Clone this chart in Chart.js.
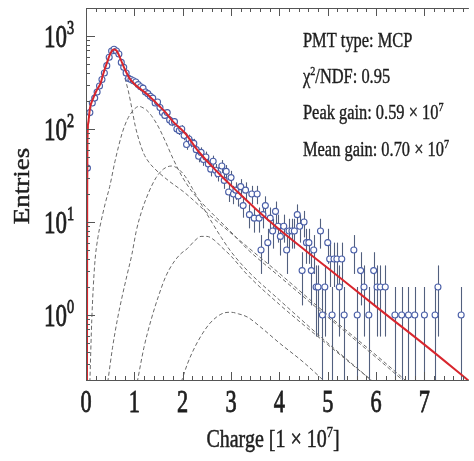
<!DOCTYPE html>
<html>
<head>
<meta charset="utf-8">
<script src="https://cdn.jsdelivr.net/npm/chart.js@4.4.0/dist/chart.umd.min.js"></script>
<style>
  html, body { margin: 0; padding: 0; background: #fff; }
</style>
</head>
<body>
<canvas id="c" width="474" height="461"></canvas>
<script>
// measured histogram (charge in 1e7, entries)
const dataCharge = [
  0.03,0.08,0.13,0.18,0.23,0.28,0.33,0.38,0.43,0.48,
  0.53,0.58,0.63,0.68,0.73,0.78,0.83,0.88,0.93,0.98,
  1.03,1.08,1.13,1.18,1.23,1.28,1.33,1.38,1.43,1.48,
  1.53,1.58,1.63,1.68,1.73,1.78,1.83,1.88,1.93,1.98,
  2.03,2.08,2.13,2.18,2.23,2.28,2.33,2.38,2.43,2.48,
  2.53,2.58,2.63,2.68,2.73,2.81,2.86,2.90,2.95,3.00,
  3.05,3.10,3.15,3.20,3.25,3.30,3.38,3.43,3.48,3.54,
  3.58,3.62,3.66,3.71,3.76,3.81,3.86,3.92,3.97,4.02,
  4.09,4.15,4.20,4.26,4.31,4.37,4.42,4.47,4.51,4.56,
  4.61,4.66,4.71,4.76,4.80,4.85,4.89,4.94,5.00,5.04,
  5.09,5.13,5.19,5.24,5.29,5.34,5.54,5.61,5.68,5.75,
  5.85,5.95,6.02,6.09,6.19,6.39,6.53,6.67,6.80,7.00,
  7.22,7.28,7.76
];
const dataEntries = [
  38,150,190,215,250,290,340,400,480,590,
  690,720,690,640,520,460,400,350,340,330,
  320,300,285,275,250,240,225,215,190,195,
  170,150,140,150,125,118,120,100,96,100,
  85,68,78,72,70,60,51,56,47,50,
  42,37,45,36,33,40,28,35,21,30,
  20,22,19,24,15,22,12,20,11,20,
  11,5,12,15,6,11,8,13,9,7,
  9,5,8,8,8,12,9,3,10,6,
  6,3,5,2,2,8,1,2,6,4,
  1,4,4,2,4,1,5,1,3,2,
  1,3,2,2,2,1,1,1,1,1,
  1,2,1
];

// total fit
const fitCharge  = [0.02,0.025,0.03,0.05,0.08,0.15,0.22,0.30,0.35,0.43,0.50,0.57,0.63,0.70,0.75,0.82,0.90,1.00,1.10,1.25,1.37,1.50,1.65,1.80,2.05,2.32,2.73,3.14,3.50,4.00,5.00,6.00,7.00,7.95];
const fitEntries = [0.18,20,75,120,165,215,260,310,380,510,640,715,700,590,510,420,350,305,275,240,210,180,150,120,90,58,34,21,14,8.3,3.2,1.23,0.48,0.19];

// n-photoelectron components
const pe1Charge  = [0.02,0.025,0.03,0.05,0.08,0.15,0.22,0.30,0.35,0.43,0.50,0.57,0.63,0.70,0.80,0.88,0.95,1.02,1.10,1.19,1.30,1.43,1.70,2.04,2.58,3.34,4.00,5.00,6.00,6.65];
const pe1Entries = [0.18,18,70,110,150,195,240,290,360,490,620,705,690,560,360,250,165,107,75,55,44,37,28,20.7,11.6,5.4,2.8,1.0,0.37,0.19];
const pe2Charge  = [0.08,0.12,0.18,0.25,0.30,0.40,0.49,0.60,0.75,0.85,0.96,1.05,1.10,1.15,1.25,1.35,1.50,1.65,1.80,2.00,2.20,2.40,2.60,3.00,3.34,4.00,5.00,6.00,6.65];
const pe2Entries = [0.19,0.9,3.5,7,9.5,16,24,45,91,125,155,172,175,172,160,140,105,72,48,30,21,16,12.5,7.8,5.1,2.6,0.95,0.35,0.18];
const pe3Charge  = [0.45,0.55,0.65,0.75,0.85,0.95,1.04,1.15,1.30,1.45,1.60,1.77,1.90,2.05,2.20,2.40,2.60,2.80,3.00,3.34,4.00,5.00,6.00];
const pe3Entries = [0.19,0.45,0.9,1.6,2.7,4.5,8,13,21,30,37,40,37.5,31,23,15,10,6.8,4.8,3.0,1.45,0.5,0.18];
const pe4Charge  = [1.06,1.20,1.35,1.50,1.65,1.80,1.95,2.10,2.25,2.38,2.50,2.65,2.80,3.00,3.34,4.00,5.00,5.95];
const pe4Entries = [0.19,0.45,0.9,1.6,2.6,3.6,4.5,5.2,6.3,7.0,7.0,6.4,5.4,4.3,2.7,1.3,0.48,0.19];
const pe5Charge  = [1.97,2.10,2.25,2.40,2.55,2.70,2.85,3.00,3.15,3.34,3.60,4.00,4.50,4.95];
const pe5Entries = [0.19,0.3,0.45,0.62,0.8,0.95,1.05,1.07,1.03,0.95,0.75,0.5,0.31,0.19];

const xTicks = [0, 1, 2, 3, 4, 5, 6, 7];
const yTickExp = [0, 1, 2, 3];
const infoLines = [
  [['PMT type: MCP', false]],
  [['\u03C7', false], ['2', true], ['/NDF: 0.95', false]],
  [['Peak gain: 0.59 \u00D7 10', false], ['7', true]],
  [['Mean gain: 0.70 \u00D7 10', false], ['7', true]]
];

const pts = (xs, ys) => xs.map((x, i) => ({ x: x, y: ys[i] }));
const FONT = '"Liberation Serif", "DejaVu Serif", serif';
const INK = '#1e1e1e';
const AXIS = '#555';

// text with superscripts, squeezed horizontally like the source figure
function drawRuns(ctx, runs, x, y, size, sx, align, weight) {
  let w = 0;
  const parts = runs.map(([t, sup]) => {
    const fs = sup ? size * 0.62 : size;
    ctx.font = fs + 'px ' + FONT;
    const pw = ctx.measureText(t).width;
    w += pw;
    return { t, sup, fs, pw };
  });
  ctx.save();
  ctx.translate(x, y);
  ctx.scale(sx, 1);
  ctx.textAlign = 'left';
  ctx.textBaseline = 'alphabetic';
  ctx.fillStyle = INK;
  ctx.strokeStyle = INK;
  ctx.lineWidth = weight || 0;
  let cx = align === 'right' ? -w : align === 'center' ? -w / 2 : 0;
  parts.forEach(p => {
    ctx.font = p.fs + 'px ' + FONT;
    const ty = p.sup ? -size * 0.42 : 0;
    ctx.fillText(p.t, cx, ty);
    if (weight) ctx.strokeText(p.t, cx, ty);
    cx += p.pw;
  });
  ctx.restore();
}

const errorBars = {
  id: 'errorBars',
  beforeDatasetsDraw(chart) {
    const { ctx, chartArea: a, scales: { x, y } } = chart;
    ctx.save();
    ctx.beginPath();
    ctx.rect(a.left, a.top, a.right - a.left, a.bottom - a.top);
    ctx.clip();
    ctx.strokeStyle = '#52607e';
    ctx.lineWidth = 1.1;
    dataCharge.forEach((c, i) => {
      const n = dataEntries[i];
      const s = Math.sqrt(n);
      const px = Math.round(x.getPixelForValue(c)) + 0.5;
      const lo = n - s > 0 ? y.getPixelForValue(n - s) : a.bottom;
      const hi = y.getPixelForValue(n + s);
      ctx.beginPath();
      ctx.moveTo(px, Math.min(lo, a.bottom));
      ctx.lineTo(px, hi);
      ctx.stroke();
    });
    ctx.restore();
  }
};

const axes = {
  id: 'axes',
  afterDraw(chart) {
    const { ctx, chartArea: a, scales: { x, y } } = chart;
    ctx.save();
    ctx.strokeStyle = AXIS;
    ctx.lineWidth = 1;
    // frame (right edge falls outside the picture)
    ctx.beginPath();
    ctx.moveTo(a.right, a.top + 0.5);
    ctx.lineTo(a.left + 0.5, a.top + 0.5);
    ctx.lineTo(a.left + 0.5, a.bottom + 0.5);
    ctx.lineTo(a.right, a.bottom + 0.5);
    ctx.stroke();

    // x ticks, inward, bottom and top
    ctx.beginPath();
    for (let i = 0; i <= 39; i++) {
      const v = i / 5;
      if (v > x.max) break;
      const px = Math.round(x.getPixelForValue(v)) + 0.5;
      const len = i % 5 === 0 ? 8 : 4;
      ctx.moveTo(px, a.bottom);
      ctx.lineTo(px, a.bottom - len);
      ctx.moveTo(px, a.top);
      ctx.lineTo(px, a.top + len);
    }
    // y ticks, log minors
    [0.1, 1, 10, 100, 1000].forEach(d => {
      for (let m = 1; m <= 9; m++) {
        const v = m * d;
        if (v < y.min || v > y.max) continue;
        const py = Math.round(y.getPixelForValue(v)) + 0.5;
        ctx.moveTo(a.left, py);
        ctx.lineTo(a.left + (m === 1 ? 9 : 4), py);
      }
    });
    ctx.stroke();

    // tick labels
    xTicks.forEach(v => {
      drawRuns(ctx, [[String(v), false]], x.getPixelForValue(v), 412, 31, 0.72, 'center', 0.8);
    });
    yTickExp.forEach(e => {
      const py = y.getPixelForValue(Math.pow(10, e));
      drawRuns(ctx, [['10', false], [String(e), true]], 74, py + 11, 31, 0.74, 'right', 0.8);
    });

    // axis titles
    drawRuns(ctx, [['Charge [1 \u00D7 10', false], ['7', true], [']', false]], 273, 447, 25, 0.8, 'center', 0.5);
    ctx.save();
    ctx.translate(29, 186);
    ctx.rotate(-Math.PI / 2);
    ctx.scale(1, 0.85);
    ctx.font = '27px ' + FONT;
    ctx.fillStyle = INK;
    ctx.strokeStyle = INK;
    ctx.lineWidth = 0.5;
    ctx.textAlign = 'center';
    ctx.textBaseline = 'alphabetic';
    ctx.fillText('Entries', 0, 0);
    ctx.strokeText('Entries', 0, 0);
    ctx.restore();

    // fit summary
    const base = [47, 83, 119, 156];
    infoLines.forEach((runs, i) => drawRuns(ctx, runs, 303, base[i], 20, 0.82, 'left', 0.4));
    ctx.restore();
  }
};

const compStyle = {
  borderColor: '#6a6a6a',
  borderWidth: 1,
  borderDash: [4, 2.5],
  pointRadius: 0,
  cubicInterpolationMode: 'monotone',
  fill: false,
  order: 2
};

new Chart(document.getElementById('c'), {
  type: 'line',
  data: {
    datasets: [
      {
        label: 'Fit',
        data: pts(fitCharge, fitEntries),
        borderColor: '#d8262d',
        borderWidth: 2,
        pointRadius: 0,
        cubicInterpolationMode: 'monotone',
        fill: false,
        order: 0
      },
      {
        label: 'Data',
        data: pts(dataCharge, dataEntries),
        showLine: false,
        pointRadius: 3,
        pointBorderColor: '#4a5fa8',
        pointBackgroundColor: '#ffffff',
        pointBorderWidth: 1.1,
        order: 1
      },
      Object.assign({ label: '1 p.e.', data: pts(pe1Charge, pe1Entries) }, compStyle),
      Object.assign({ label: '2 p.e.', data: pts(pe2Charge, pe2Entries) }, compStyle),
      Object.assign({ label: '3 p.e.', data: pts(pe3Charge, pe3Entries) }, compStyle),
      Object.assign({ label: '4 p.e.', data: pts(pe4Charge, pe4Entries) }, compStyle),
      Object.assign({ label: '5 p.e.', data: pts(pe5Charge, pe5Entries) }, compStyle)
    ]
  },
  options: {
    responsive: false,
    animation: false,
    devicePixelRatio: 1,
    events: [],
    layout: { padding: { left: 86, top: 8, right: 0, bottom: 81 } },
    scales: {
      x: { type: 'linear', display: false, min: 0, max: 7.92 },
      y: { type: 'logarithmic', display: false, min: 0.2, max: 2000 }
    },
    plugins: {
      legend: { display: false },
      tooltip: { enabled: false }
    }
  },
  plugins: [errorBars, axes]
});
</script>
</body>
</html>
